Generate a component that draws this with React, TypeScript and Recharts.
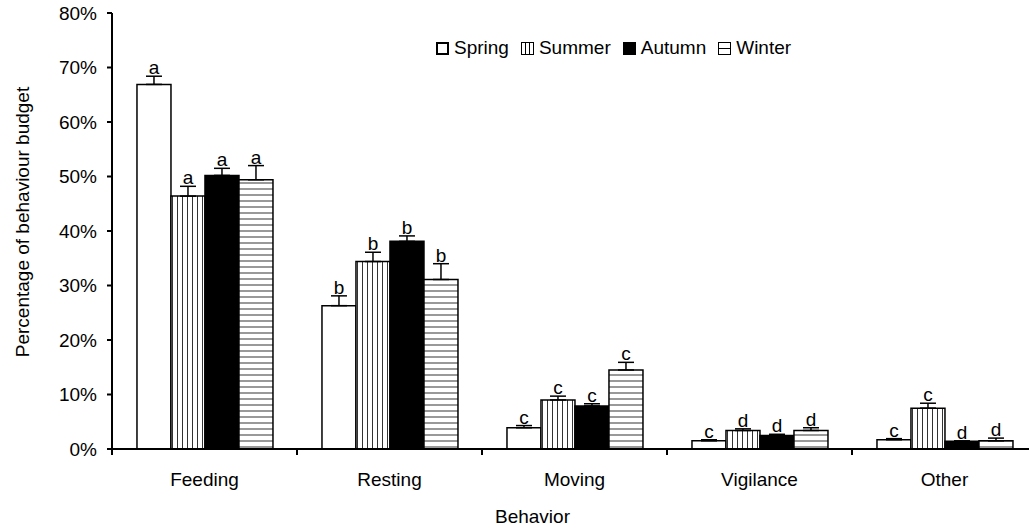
import React from "react";
import { BarChart, Bar, XAxis, YAxis, ErrorBar, Legend, LabelList } from "recharts";

const behaviors = ["Feeding", "Resting", "Moving", "Vigilance", "Other"];

const spring = [66.9, 26.3, 3.9, 1.5, 1.7];
const springErr = [1.5, 1.8, 0.4, 0.2, 0.2];
const summer = [46.4, 34.4, 9.0, 3.4, 7.5];
const summerErr = [1.8, 1.7, 0.7, 0.3, 0.9];
const autumn = [50.2, 38.1, 7.9, 2.5, 1.4];
const autumnErr = [1.3, 1.0, 0.4, 0.2, 0.1];
const winter = [49.4, 31.1, 14.5, 3.4, 1.5];
const winterErr = [2.6, 2.9, 1.4, 0.5, 0.5];

const springLetters = ["a", "b", "c", "c", "c"];
const summerLetters = ["a", "b", "c", "d", "c"];
const autumnLetters = ["a", "b", "c", "d", "d"];
const winterLetters = ["a", "b", "c", "d", "d"];

const yTicks = [0, 10, 20, 30, 40, 50, 60, 70, 80];

const FONT = "'Liberation Sans', Arial, sans-serif";

const data = behaviors.map((b, i) => ({
	behavior: b,
	spring: spring[i],
	springErr: [0, springErr[i]],
	summer: summer[i],
	summerErr: [0, summerErr[i]],
	autumn: autumn[i],
	autumnErr: [0, autumnErr[i]],
	winter: winter[i],
	winterErr: [0, winterErr[i]],
}));

const series = [
	{ key: "spring", name: "Spring", fill: "#ffffff", errs: springErr, letters: springLetters },
	{ key: "summer", name: "Summer", fill: "url(#vstripes)", errs: summerErr, letters: summerLetters },
	{ key: "autumn", name: "Autumn", fill: "#000000", errs: autumnErr, letters: autumnLetters },
	{ key: "winter", name: "Winter", fill: "url(#hstripes)", errs: winterErr, letters: winterLetters },
];

const CategoryTick = (props: any) => {
	const { x, y, payload } = props;
	const half = typeof payload?.offset === "number" ? payload.offset : 92.5;
	return (
		<g>
			<line x1={x - half} x2={x - half} y1={y} y2={y + 6} stroke="#000" strokeWidth={2} />
			<line x1={x + half} x2={x + half} y1={y} y2={y + 6} stroke="#000" strokeWidth={2} />
			<text x={x} y={y + 24} dy="0.71em" textAnchor="middle" fontSize={19} fontFamily={FONT} fill="#000">
				{payload.value}
			</text>
		</g>
	);
};

// letter above each error bar
const makeLetter = (errs: number[], letters: string[]) => (props: any) => {
	const vb = props.viewBox ?? props;
	const x = Number(props.x ?? vb.x);
	const y = Number(props.y ?? vb.y);
	const width = Number(props.width ?? vb.width);
	const height = Number(props.height ?? vb.height);
	const value = Number(props.value);
	const i = props.index;
	if (!value || i == null) return null;
	const top = y - (errs[i] * Math.abs(height)) / value;
	return (
		<text x={x + width / 2} y={top - 2} textAnchor="middle" fontSize={19} fontFamily={FONT} fill="#000">
			{letters[i]}
		</text>
	);
};

const LegendIcon = ({ k }: { k: string }) => (
	<svg width={13} height={13} style={{ marginRight: 5 }}>
		{k === "spring" && <rect x={1} y={1} width={11} height={11} fill="#fff" stroke="#000" strokeWidth={2} />}
		{k === "summer" && (
			<g>
				<rect x={0.5} y={0.5} width={12} height={12} fill="#fff" stroke="#000" strokeWidth={1} />
				<line x1={4.5} x2={4.5} y1={0} y2={13} stroke="#000" />
				<line x1={8.5} x2={8.5} y1={0} y2={13} stroke="#000" />
			</g>
		)}
		{k === "autumn" && <rect x={0} y={0} width={13} height={13} fill="#000" />}
		{k === "winter" && (
			<g>
				<rect x={0.5} y={0.5} width={12} height={12} fill="#fff" stroke="#000" strokeWidth={1} />
				<line x1={0} x2={13} y1={6.5} y2={6.5} stroke="#000" />
			</g>
		)}
	</svg>
);

const renderLegend = () => (
	<div style={{ display: "flex", alignItems: "center", fontFamily: FONT, fontSize: 19, color: "#000" }}>
		{series.map((s) => (
			<div key={s.key} style={{ display: "flex", alignItems: "center", marginRight: 12 }}>
				<LegendIcon k={s.key} />
				<span>{s.name}</span>
			</div>
		))}
	</div>
);

export default function App() {
	return (
		<div style={{ position: "absolute", left: 0, top: 0, width: 1029, height: 529, overflow: "hidden", background: "#fff" }}>
			<BarChart
				width={1045}
				height={529}
				data={data}
				margin={{ top: 13, right: 8, left: 0, bottom: 0 }}
				barCategoryGap="13.5%"
				barGap={0}
			>
				<defs>
					<pattern id="vstripes" patternUnits="userSpaceOnUse" width={5} height={5}>
						<rect width={5} height={5} fill="#fff" />
						<line x1={2.5} x2={2.5} y1={0} y2={5} stroke="#333" strokeWidth={1} />
					</pattern>
					<pattern id="hstripes" patternUnits="userSpaceOnUse" width={6} height={6}>
						<rect width={6} height={6} fill="#fff" />
						<line x1={0} x2={6} y1={3} y2={3} stroke="#333" strokeWidth={1} />
					</pattern>
				</defs>
				<XAxis
					dataKey="behavior"
					height={80}
					tickSize={0}
					tickMargin={0}
					tickLine={false}
					axisLine={{ stroke: "#000", strokeWidth: 2 }}
					tick={CategoryTick}
					interval={0}
					label={({ viewBox }: any) => (
						<text
							x={viewBox.x + viewBox.width / 2 - 42}
							y={viewBox.y + 67}
							dy="0.355em"
							textAnchor="middle"
							fontSize={19}
							fontFamily={FONT}
							fill="#000"
						>
							Behavior
						</text>
					)}
				/>
				<YAxis
					width={112}
					domain={[0, 80]}
					ticks={yTicks}
					interval={0}
					tickFormatter={(v: number) => `${v}%`}
					tickSize={5}
					tickMargin={10}
					tickLine={{ stroke: "#000", strokeWidth: 2 }}
					axisLine={{ stroke: "#000", strokeWidth: 2 }}
					tick={{ fill: "#000", fontSize: 19, fontFamily: FONT }}
					label={({ viewBox }: any) => (
						<text
							x={22}
							y={viewBox.y + viewBox.height / 2 - 9}
							textAnchor="middle"
							dominantBaseline="central"
							transform={`rotate(-90, 22, ${viewBox.y + viewBox.height / 2 - 9})`}
							fontSize={19}
							fontFamily={FONT}
							fill="#000"
						>
							Percentage of behaviour budget
						</text>
					)}
				/>
				<Legend
					layout="horizontal"
					verticalAlign="middle"
					align="center"
					content={renderLegend}
					wrapperStyle={{ top: 37, left: 436, width: "auto" }}
				/>
				{series.map((s) => (
					<Bar
						key={s.key}
						dataKey={s.key}
						name={s.name}
						fill={s.fill}
						stroke="#000"
						strokeWidth={1.5}
						isAnimationActive={false}
					>
						<ErrorBar dataKey={`${s.key}Err`} width={8} stroke="#000" strokeWidth={1.5} isAnimationActive={false} />
						<LabelList dataKey={s.key} content={makeLetter(s.errs, s.letters)} />
					</Bar>
				))}
			</BarChart>
		</div>
	);
}
